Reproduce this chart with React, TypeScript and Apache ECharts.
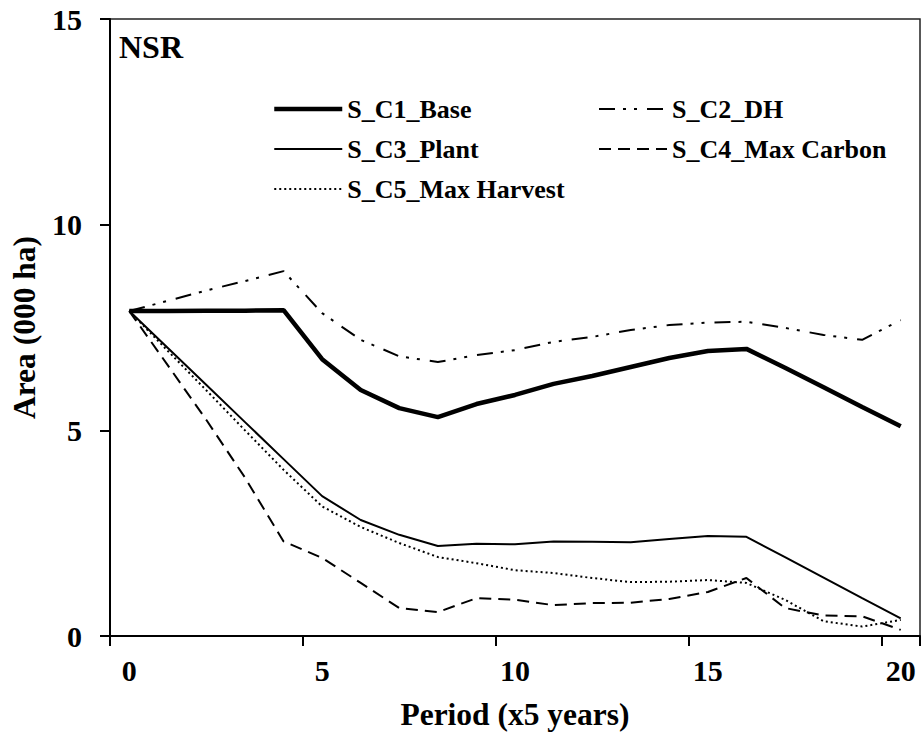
import React, { useEffect, useRef } from "react";
import * as echarts from "echarts";

// Period index (each period = 5 years)
const periods = ["0", "1", "2", "3", "4", "5", "6", "7", "8", "9", "10", "11", "12", "13", "14", "15", "16", "17", "18", "19", "20"];

// NSR area (000 ha) per scenario
const sC1Base = [7.9, 7.9, 7.91, 7.91, 7.92, 6.73, 5.98, 5.54, 5.32, 5.64, 5.86, 6.13, 6.32, 6.54, 6.76, 6.93, 6.98, 6.52, 6.05, 5.57, 5.1];
const sC2DH = [7.9, 8.15, 8.4, 8.63, 8.87, 7.85, 7.2, 6.8, 6.66, 6.83, 6.95, 7.15, 7.27, 7.44, 7.56, 7.62, 7.64, 7.49, 7.32, 7.2, 7.68];
const sC3Plant = [7.9, 7.0, 6.1, 5.2, 4.3, 3.4, 2.82, 2.46, 2.19, 2.24, 2.23, 2.3, 2.29, 2.28, 2.36, 2.43, 2.41, 1.92, 1.42, 0.92, 0.43];
const sC4MaxCarbon = [7.9, 6.58, 5.25, 3.85, 2.3, 1.9, 1.29, 0.68, 0.58, 0.92, 0.88, 0.75, 0.8, 0.81, 0.9, 1.07, 1.41, 0.68, 0.5, 0.48, 0.15];
const sC5MaxHarvest = [7.9, 6.93, 5.97, 5.0, 4.04, 3.15, 2.65, 2.26, 1.92, 1.77, 1.6, 1.53, 1.41, 1.31, 1.32, 1.36, 1.29, 0.88, 0.36, 0.23, 0.39];

const seriesNames = ["S_C1_Base", "S_C2_DH", "S_C3_Plant", "S_C4_Max Carbon", "S_C5_Max Harvest"];

const FONT = "Liberation Serif, Times New Roman, Times, serif";

export default function App() {
  const ref = useRef<HTMLDivElement>(null);

  useEffect(() => {
    if (!ref.current) return;
    const chart = echarts.init(ref.current, undefined, { renderer: "svg" });

    const lineSeries = (name: string, data: number[], width: number, dash: any) => ({
      name,
      type: "line",
      data,
      symbol: "none",
      showSymbol: false,
      smooth: false,
      lineStyle: { color: "#000", width, type: dash, cap: "butt" },
      itemStyle: { color: "#000" },
      z: 3,
    });

    const legendText = { fontFamily: FONT, fontWeight: "bold", fontSize: 26, color: "#000" };
    const legendCommon = {
      orient: "vertical",
      top: 96,
      itemWidth: 68,
      itemHeight: 12,
      itemGap: 14,
      padding: 0,
      textStyle: legendText,
      // only the line sample is drawn, no marker on it
      itemStyle: { opacity: 0, color: "transparent", borderWidth: 0 },
      lineStyle: { width: "inherit", type: "inherit", color: "#000", cap: "butt" },
    };

    chart.setOption({
      animation: false,
      backgroundColor: "#fff",
      title: {
        text: "NSR",
        left: 119,
        top: 31,
        padding: 0,
        textStyle: { fontFamily: FONT, fontWeight: "bold", fontSize: 32, color: "#000" },
      },
      legend: [
        { ...legendCommon, data: [seriesNames[0], seriesNames[2], seriesNames[4]], left: 272 },
        { ...legendCommon, data: [seriesNames[1], seriesNames[3]], left: 598 },
      ],
      grid: {
        left: 103,
        right: 1,
        top: 19,
        bottom: 102,
        show: true,
        borderColor: "#222",
        borderWidth: 1.5,
        containLabel: false,
      },
      xAxis: {
        type: "category",
        data: periods,
        boundaryGap: true,
        name: "Period (x5 years)",
        nameLocation: "middle",
        nameGap: 62,
        nameTextStyle: { fontFamily: FONT, fontWeight: "bold", fontSize: 31.5, color: "#000" },
        axisLine: { lineStyle: { color: "#000", width: 2 } },
        axisTick: { show: true, interval: 4, length: 10, lineStyle: { color: "#000", width: 2 } },
        axisLabel: {
          interval: 4,
          margin: 19,
          fontFamily: FONT,
          fontWeight: "bold",
          fontSize: 30,
          color: "#000",
        },
        splitLine: { show: false },
      },
      yAxis: {
        type: "value",
        min: 0,
        max: 15,
        interval: 5,
        name: "Area (000 ha)",
        nameLocation: "middle",
        nameGap: 70,
        nameRotate: 90,
        nameTextStyle: { fontFamily: FONT, fontWeight: "bold", fontSize: 31.5, color: "#000" },
        axisLine: { show: true, lineStyle: { color: "#000", width: 2 } },
        axisTick: { show: true, length: 10, lineStyle: { color: "#000", width: 2 } },
        axisLabel: {
          margin: 28,
          fontFamily: FONT,
          fontWeight: "bold",
          fontSize: 30,
          color: "#000",
        },
        splitLine: { show: false },
      },
      series: [
        lineSeries(seriesNames[0], sC1Base, 4.5, "solid"),
        lineSeries(seriesNames[1], sC2DH, 2, [16, 8, 3, 8, 3, 10]),
        lineSeries(seriesNames[2], sC3Plant, 2, "solid"),
        lineSeries(seriesNames[3], sC4MaxCarbon, 2, [12, 7]),
        lineSeries(seriesNames[4], sC5MaxHarvest, 2, [2, 3]),
      ],
    });

    return () => chart.dispose();
  }, []);

  return (
    <div
      ref={ref}
      style={{ position: "fixed", left: 0, top: 0, width: 921, height: 738, background: "#fff" }}
    />
  );
}
